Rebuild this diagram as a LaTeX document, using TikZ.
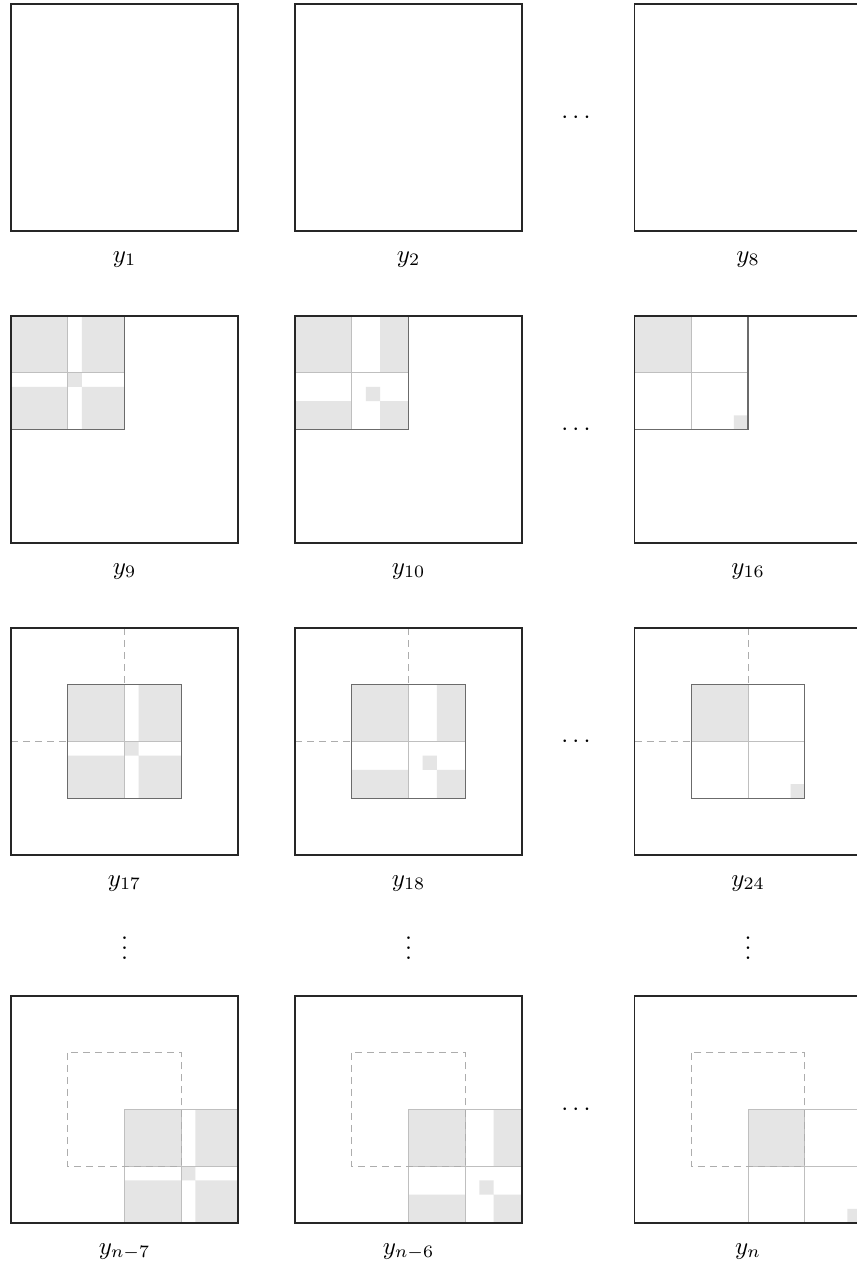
\documentclass[tikz,border=0pt]{standalone}
\tikzset{
  bigsq/.style={draw=black!85, line width=0.42pt},
  cellfill/.style={fill=black!10},
  innerln/.style={draw=black!25, line width=0.4pt},
  darkout/.style={draw=black!58, line width=0.42pt},
  lightout/.style={draw=black!25, line width=0.4pt},
  dashln/.style={draw=black!32, line width=0.4pt, dash pattern=on 2.8pt off 2pt},
  lbl/.style={anchor=base, inner sep=0pt},
  dotsnode/.style={inner sep=0pt},
}
% block patterns, arguments: x, y (pixels, top-left), outline style
\newcommand{\myPatA}[3]{%
  \begin{scope}[shift={(#1,#2)}, x=5.675pt, y=-5.675pt]
    \fill[cellfill] (0,0) rectangle (4,4) (5,0) rectangle (8,4)
      (0,5) rectangle (4,8) (5,5) rectangle (8,8) (4,4) rectangle (5,5);
    \draw[innerln] (4,0) -- (4,8) (0,4) -- (8,4);
    \draw[#3] (0,0) rectangle (8,8);
  \end{scope}}
\newcommand{\myPatB}[3]{%
  \begin{scope}[shift={(#1,#2)}, x=5.675pt, y=-5.675pt]
    \fill[cellfill] (0,0) rectangle (4,4) (6,0) rectangle (8,4)
      (0,6) rectangle (4,8) (6,6) rectangle (8,8) (5,5) rectangle (6,6);
    \draw[innerln] (4,0) -- (4,8) (0,4) -- (8,4);
    \draw[#3] (0,0) rectangle (8,8);
  \end{scope}}
\newcommand{\myPatC}[3]{%
  \begin{scope}[shift={(#1,#2)}, x=5.675pt, y=-5.675pt]
    \fill[cellfill] (0,0) rectangle (4,4) (7,7) rectangle (8,8);
    \draw[innerln] (4,0) -- (4,8) (0,4) -- (8,4);
    \draw[#3] (0,0) rectangle (8,8);
  \end{scope}}
\begin{document}
\begin{tikzpicture}[x=0.4pt, y=-0.4pt]
\useasboundingbox (0,0) rectangle (857,1266);
\fill[white] (0,0) rectangle (857,1266);
% ---------- row 1 ----------
\foreach \cx in {11,295,634.5} {
  \draw[bigsq] (\cx,4) rectangle ++(227,227);
}
% ---------- row 2 ----------
\myPatA{11}{316}{darkout}
\myPatB{295}{316}{darkout}
\myPatC{634.5}{316}{darkout}
\foreach \cx in {11,295,634.5} {
  \draw[bigsq] (\cx,316) rectangle ++(227,227);
}
% ---------- row 3 ----------
\myPatA{67.75}{684.75}{darkout}
\myPatB{351.75}{684.75}{darkout}
\myPatC{691.25}{684.75}{darkout}
\foreach \cx in {11,295,634.5} {
  \draw[dashln] (\cx+113.5,628) -- (\cx+113.5,684.75);
  \draw[dashln] (\cx,741.5) -- (\cx+56.75,741.5);
  \draw[bigsq] (\cx,628) rectangle ++(227,227);
}
% ---------- row 5 ----------
\myPatA{124.5}{1109.5}{lightout}
\myPatB{408.5}{1109.5}{lightout}
\myPatC{748}{1109.5}{lightout}
\foreach \cx in {11,295,634.5} {
  \draw[dashln] (\cx+56.75,1052.75) rectangle ++(113.5,113.5);
  \draw[bigsq] (\cx,996) rectangle ++(227,227);
}
% ---------- labels ----------
\node[lbl] (l1) at (124.5,262) {$y_1$};
\node[lbl] (l2) at (408.5,262) {$y_2$};
\node[lbl] (l8) at (748,262) {$y_8$};
\node[lbl] (l9) at (124.5,574) {$y_9$};
\node[lbl] (l10) at (408.5,574) {$y_{10}$};
\node[lbl] (l16) at (748,574) {$y_{16}$};
\node[lbl] (l17) at (124.5,886) {$y_{17}$};
\node[lbl] (l18) at (408.5,886) {$y_{18}$};
\node[lbl] (l24) at (748,886) {$y_{24}$};
\node[lbl] (ln7) at (124.5,1254) {$y_{n-7}$};
\node[lbl] (ln6) at (408.5,1254) {$y_{n-6}$};
\node[lbl] (ln) at (748,1254) {$y_n$};
% ---------- dots ----------
\node[dotsnode] (h1) at (576,117.5) {$\cdots$};
\node[dotsnode] (h2) at (576,429.5) {$\cdots$};
\node[dotsnode] (h3) at (576,741.5) {$\cdots$};
\node[dotsnode] (h4) at (576,1109.5) {$\cdots$};
\node[lbl] (v1) at (124.5,959) {$\vdots$};
\node[lbl] (v2) at (408.5,959) {$\vdots$};
\node[lbl] (v3) at (748,959) {$\vdots$};
\end{tikzpicture}
\end{document}
